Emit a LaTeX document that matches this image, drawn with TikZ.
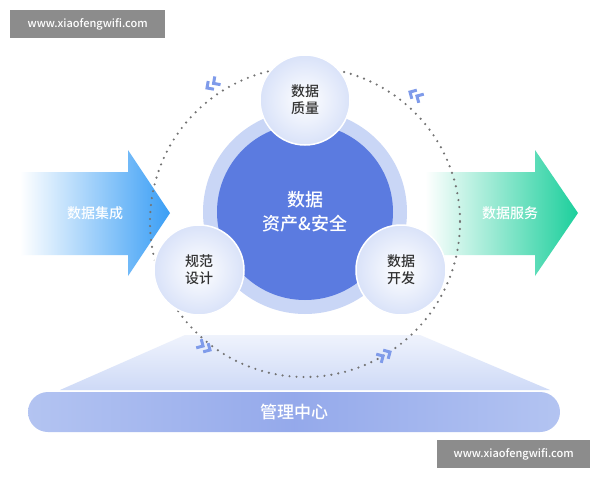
\documentclass[tikz,border=0pt]{standalone}
\usepackage{fontspec}
\setmainfont{Noto Sans CJK SC}[UprightFont=* Medium]
\usetikzlibrary{shadings}
\definecolor{cblue}{HTML}{5B7BE0}
\definecolor{ring}{HTML}{C9D6F6}
\definecolor{arrblue}{HTML}{3A9EF5}
\definecolor{arrteal}{HTML}{1CCF9C}
\definecolor{chev}{HTML}{7F9BEA}
\definecolor{txt}{HTML}{333333}
\begin{document}
\begin{tikzpicture}[x=1pt,y=-1pt,
  small/.style={circle,minimum size=90pt,inner sep=0pt,draw=white,line width=1.5pt,
     inner color=white,outer color=ring!70,text=txt,font=\fontsize{14}{17}\selectfont,align=center},
  wm/.style={fill=black!45,text=white,font=\fontsize{11}{13}\selectfont,minimum height=28pt,inner sep=0pt},
  chv/.style={draw=chev,line width=3pt}]
\useasboundingbox (0,0) rectangle (600,480);
\fill[white] (0,0) rectangle (600,480);
% watermarks
\node[wm,minimum width=155pt,anchor=north west] (w1) at (10,10) {www.xiaofengwifi.com};
\node[wm,minimum width=153pt,anchor=north west] (w2) at (437,440) {www.xiaofengwifi.com};
% trapezoid
\shade[top color=ring!30,bottom color=ring!90] (185,335) -- (420,335) -- (550,390) -- (60,390) -- cycle;
% bar
\shade[left color=ring!80!cblue,right color=ring!80!cblue,middle color=cblue!65,rounded corners=20pt] (28,392) rectangle (560,432);
\node[text=white,font=\fontsize{17}{20}\selectfont] (mgmt) at (294,412) {管理中心};
% arrows
\shade[left color=white,right color=arrblue] (20,172) -- (128,172) -- (128,150) -- (170,213) -- (128,276) -- (128,255) -- (20,255) -- cycle;
\node[text=white,font=\fontsize{14}{17}\selectfont] (in) at (95,213) {数据集成};
\shade[left color=white,right color=arrteal] (425,172) -- (535,172) -- (535,150) -- (578,213) -- (535,276) -- (535,255) -- (425,255) -- cycle;
\node[text=white,font=\fontsize{14}{17}\selectfont] (out) at (510,213) {数据服务};
% dotted circle
\draw[black!55,line width=2.4pt,dash pattern=on 0pt off 7pt,line cap=round] (305,222) circle (155);
% chevrons
\foreach \px/\py/\a in {207/88/215,410/92/150,210/350/330,390/352/30}{
 \begin{scope}[shift={(\px,\py)},rotate=\a]
 \draw[chv] (-5,-5)--(0,0)--(-5,5); \draw[chv] (-13,-5)--(-8,0)--(-13,5);
 \end{scope}}
% center
\fill[ring] (305,212) circle (102);
\node[circle,minimum size=176pt,inner sep=0pt,fill=cblue,text=white,align=center,
  font=\fontsize{18}{24}\selectfont] (core) at (305,212) {数据\\资产\&安全};
\node[small] (q) at (305,100) {数据\\质量};
\node[small] (d) at (199,270) {规范\\设计};
\node[small] (k) at (401,270) {数据\\开发};
\end{tikzpicture}
\end{document}
